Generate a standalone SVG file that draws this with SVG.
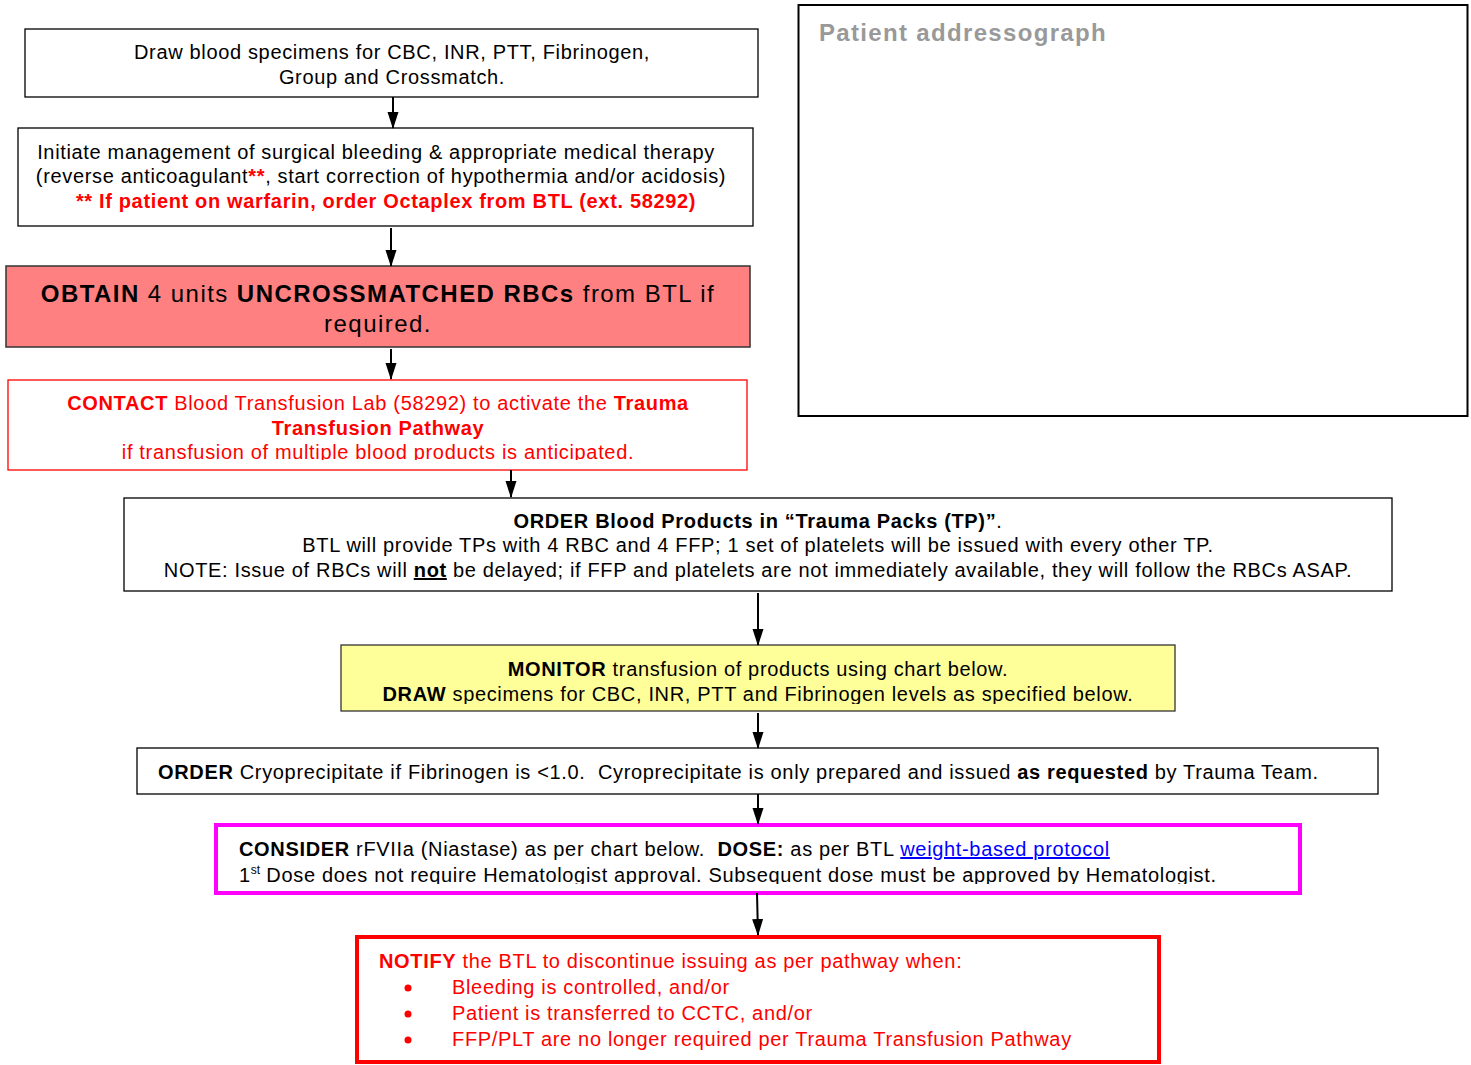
<svg xmlns="http://www.w3.org/2000/svg" width="1471" height="1065" viewBox="0 0 1471 1065">
<style>
text{font-family:"Liberation Sans",Arial,sans-serif;font-size:20px;fill:#000;letter-spacing:0.66px}
.c{text-anchor:middle}
.b{font-weight:bold}
.r{fill:#ff0000}
.big{font-size:24px;letter-spacing:1.45px}
.box{fill:#fff;stroke:#000;stroke-width:1.3}
.conn line{stroke:#000;stroke-width:2}
</style>
<defs>
<marker id="ah" markerUnits="userSpaceOnUse" markerWidth="17" markerHeight="12" refX="16" refY="5.5" orient="auto" viewBox="0 0 17 11">
<path d="M0,0 L17,5.5 L0,11 Z" fill="#000"/>
</marker>
<clipPath id="clip4"><rect x="8" y="380" width="740" height="80"/></clipPath>
<clipPath id="clip6"><rect x="341" y="645" width="835" height="59"/></clipPath>
<clipPath id="clip8"><rect x="215" y="824" width="1086" height="60"/></clipPath>
</defs>
<rect width="1471" height="1065" fill="#fff"/>

<g id="addressograph">
<rect x="798.5" y="5" width="669" height="411" fill="#fff" stroke="#000" stroke-width="2"/>
<text x="819" y="41" class="b" style="font-size:24px;fill:#999;letter-spacing:1.33px">Patient addressograph</text>
</g>

<g id="n1">
<rect class="box" x="25" y="29" width="733" height="68"/>
<text class="c" x="392" y="59">Draw blood specimens for CBC, INR, PTT, Fibrinogen,</text>
<text class="c" x="392" y="84">Group and Crossmatch.</text>
</g>

<g id="n2">
<rect class="box" x="18" y="128" width="735" height="98"/>
<text class="c" x="376" y="159">Initiate management of surgical bleeding &amp; appropriate medical therapy</text>
<text class="c" x="381" y="183">(reverse anticoagulant<tspan class="b r">**</tspan>, start correction of hypothermia and/or acidosis)</text>
<text class="c b r" x="386" y="208">** If patient on warfarin, order Octaplex from BTL (ext. 58292)</text>
</g>

<g id="n3">
<rect x="6" y="266" width="744" height="81" fill="#ff8080" stroke="#333" stroke-width="1.5"/>
<text class="c big" x="378" y="302"><tspan class="b">OBTAIN</tspan> 4 units <tspan class="b">UNCROSSMATCHED RBCs</tspan> from BTL if</text>
<text class="c big" x="378" y="332">required.</text>
</g>

<g id="n4">
<rect x="8" y="380" width="739" height="90" fill="#fff" stroke="#ff0000" stroke-width="1.3"/>
<g clip-path="url(#clip4)">
<text class="c r" x="378" y="410"><tspan class="b">CONTACT</tspan> Blood Transfusion Lab (58292) to activate the <tspan class="b">Trauma</tspan></text>
<text class="c r b" x="378" y="435">Transfusion Pathway</text>
<text class="c r" x="378" y="459">if transfusion of multiple blood products is anticipated.</text>
</g>
</g>

<g id="n5">
<rect class="box" x="124" y="498" width="1268" height="93"/>
<text class="c" x="758" y="528"><tspan class="b">ORDER Blood Products in “Trauma Packs (TP)”</tspan>.</text>
<text class="c" x="758" y="552">BTL will provide TPs with 4 RBC and 4 FFP; 1 set of platelets will be issued with every other TP.</text>
<text class="c" x="758" y="577">NOTE: Issue of RBCs will <tspan class="b" text-decoration="underline">not</tspan> be delayed; if FFP and platelets are not immediately available, they will follow the RBCs ASAP.</text>
</g>

<g id="n6">
<rect x="341" y="645" width="834" height="66" fill="#ffff99" stroke="#333" stroke-width="1.3"/>
<g clip-path="url(#clip6)">
<text class="c" x="758" y="676"><tspan class="b">MONITOR</tspan> transfusion of products using chart below.</text>
<text class="c" x="758" y="701"><tspan class="b">DRAW</tspan> specimens for CBC, INR, PTT and Fibrinogen levels as specified below.</text>
</g>
</g>

<g id="n7">
<rect class="box" x="137" y="748" width="1241" height="46"/>
<text x="158" y="779" xml:space="preserve"><tspan class="b">ORDER</tspan> Cryoprecipitate if Fibrinogen is &lt;1.0.  Cyroprecipitate is only prepared and issued <tspan class="b">as requested</tspan> by Trauma Team.</text>
</g>

<g id="n8">
<rect x="216" y="825" width="1084" height="68" fill="#fff" stroke="#ff00ff" stroke-width="4"/>
<g clip-path="url(#clip8)">
<text x="239" y="856" xml:space="preserve"><tspan class="b">CONSIDER</tspan> rFVIIa (Niastase) as per chart below.  <tspan class="b">DOSE:</tspan> as per BTL <tspan style="fill:#0000ff" text-decoration="underline">weight-based protocol</tspan></text>
<text x="239" y="882">1<tspan dy="-8" style="font-size:12px;letter-spacing:0">st</tspan><tspan dy="8"> Dose does not require Hematologist approval. Subsequent dose must be approved by Hematologist.</tspan></text>
</g>
</g>

<g id="n9">
<rect x="357" y="937" width="802" height="125" fill="#fff" stroke="#ff0000" stroke-width="4"/>
<text class="r" x="379" y="968"><tspan class="b">NOTIFY</tspan> the BTL to discontinue issuing as per pathway when:</text>
<circle cx="408" cy="988" r="3.5" fill="#ff0000"/>
<circle cx="408" cy="1014" r="3.5" fill="#ff0000"/>
<circle cx="408" cy="1040" r="3.5" fill="#ff0000"/>
<text class="r" x="452" y="994">Bleeding is controlled, and/or</text>
<text class="r" x="452" y="1020">Patient is transferred to CCTC, and/or</text>
<text class="r" x="452" y="1046">FFP/PLT are no longer required per Trauma Transfusion Pathway</text>
</g>

<g id="connectors" class="conn">
<line x1="393" y1="97" x2="393" y2="128" marker-end="url(#ah)"/>
<line x1="391" y1="228" x2="391" y2="266" marker-end="url(#ah)"/>
<line x1="391" y1="349" x2="391" y2="379" marker-end="url(#ah)"/>
<line x1="511" y1="470" x2="511" y2="497" marker-end="url(#ah)"/>
<line x1="758" y1="593" x2="758" y2="645" marker-end="url(#ah)"/>
<line x1="758" y1="713" x2="758" y2="748" marker-end="url(#ah)"/>
<line x1="758" y1="794" x2="758" y2="824" marker-end="url(#ah)"/>
<line x1="757" y1="893" x2="758" y2="935" marker-end="url(#ah)"/>
</g>
</svg>
